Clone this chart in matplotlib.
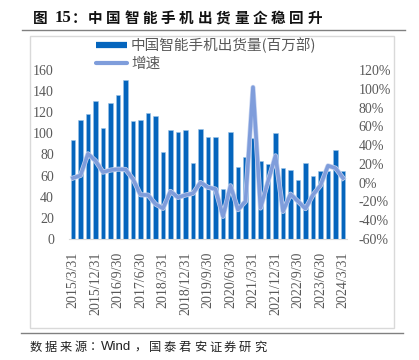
import matplotlib
matplotlib.use("Agg")
import matplotlib.pyplot as plt
from matplotlib.lines import Line2D
from matplotlib.patches import Rectangle
import matplotlib.patheffects as pe
import numpy as np

quarters = ["2015/3/31", "2015/6/30", "2015/9/30", "2015/12/31",
            "2016/3/31", "2016/6/30", "2016/9/30", "2016/12/31",
            "2017/3/31", "2017/6/30", "2017/9/30", "2017/12/31",
            "2018/3/31", "2018/6/30", "2018/9/30", "2018/12/31",
            "2019/3/31", "2019/6/30", "2019/9/30", "2019/12/31",
            "2020/3/31", "2020/6/30", "2020/9/30", "2020/12/31",
            "2021/3/31", "2021/6/30", "2021/9/30", "2021/12/31",
            "2022/3/31", "2022/6/30", "2022/9/30", "2022/12/31",
            "2023/3/31", "2023/6/30", "2023/9/30", "2023/12/31",
            "2024/3/31"]
shipments = [94, 113, 118, 131, 105, 129, 136, 151, 112, 113, 119, 116.5,
             82, 103, 101, 103, 72, 104, 97, 97, 47, 101, 68, 77.5,
             96, 74, 71, 100, 67, 65, 56, 72, 60, 64, 64, 84, 64]
growth = [4.9, 7.7, 30.7, 23.3, 11.2, 13.4, 14.4, 14.1, 3.8, -12.9, -13.2, -22.8,
          -27.4, -9.3, -15.7, -13.2, -11.4, 0.2, -5.0, -6.8, -35.9, -3.3, -28.8, -19.9,
          101.6, -27.0, 1.3, 28.6, -30.6, -12.2, -19.9, -27.7, -12.9, -2.9, 18.0, 15.5, 4.9]
bar_label = "中国智能手机出货量(百万部)"
line_label = "增速"
title_prefix = "图"
title_num = "15"
title_body = "：中国智能手机出货量企稳回升"
source_a = "数据来源："
source_b = "Wind"
source_c = "，国泰君安证券研究"

W, H = 419, 360
fig = plt.figure(figsize=(W / 100, H / 100), dpi=100)

bar_color = "#0565BD"
line_color = "#7F9DDB"
tick_color = "#595959"
serif = "Liberation Serif"
cjk = ["Noto Sans CJK SC", "DejaVu Sans"]


def fx(px):
    return px / W


def fy(py):
    return 1 - py / H


# frame box around chart
fig.add_artist(Rectangle((fx(30), fy(328)), (394 - 30) / W, (328 - 36) / H,
                         transform=fig.transFigure, fill=False,
                         edgecolor="#d9d9d9", linewidth=1))
# title line and source line
fig.add_artist(Line2D([fx(22), fx(405)], [fy(30), fy(30)],
                      transform=fig.transFigure, color="#808080", linewidth=1))
fig.add_artist(Line2D([fx(21), fx(403)], [fy(333), fy(333)],
                      transform=fig.transFigure, color="#808080", linewidth=1))

# title, drawn with the reference's wide letter spacing
ty = fy(18)
fig.text(fx(40), ty, title_prefix, family=cjk, fontweight="bold", fontsize=10.5,
         va="center", ha="center", color="#111111")
fig.text(fx(62.5), ty, title_num, family=serif, fontweight="bold", fontsize=12,
         va="center", ha="center", color="#111111")
for i, ch in enumerate(title_body):
    cx = 79 + (i - 0) * 18.3 if i == 0 else 95 + (i - 1) * 18.3
    fig.text(fx(cx), ty, ch, family=cjk, fontweight="bold", fontsize=10.5,
             va="center", ha="center", color="#111111")

# source
sy = fy(347)
for i, ch in enumerate(source_a):
    fig.text(fx(36 + i * 15), sy, ch, family=cjk, fontsize=8.8,
             va="center", ha="center", color="#222222")
fig.text(fx(101), sy, source_b, family="Liberation Sans", fontsize=9.5,
         va="center", ha="left", color="#222222")
for i, ch in enumerate(source_c):
    fig.text(fx(140 + i * 15), sy, ch, family=cjk, fontsize=8.8,
             va="center", ha="center", color="#222222")

left, right = 69.25 / W, 346.75 / W
bottom, top = 1 - 239 / H, 1 - 70 / H
ax = fig.add_axes([left, bottom, right - left, top - bottom])
x = np.arange(len(quarters))
ax.bar(x, shipments, width=0.6, color=bar_color, edgecolor="#9dc3e6",
       linewidth=0.4, zorder=2)
ax.set_xlim(-0.5, len(quarters) - 0.5)
ax.set_ylim(0, 160)
ax.set_yticks(np.arange(0, 161, 20))
ax.set_xticks(x[::3])
ax.set_xticklabels(quarters[::3], rotation=90)
for s in ["left", "right", "top"]:
    ax.spines[s].set_visible(False)
ax.spines["bottom"].set_color("#d9d9d9")
ax.tick_params(axis="both", length=0, labelsize=10, labelcolor=tick_color)
ax.tick_params(axis="y", pad=11)
ax.tick_params(axis="x", pad=9)
for lab in ax.get_xticklabels() + ax.get_yticklabels():
    lab.set_fontfamily(serif)

ax2 = ax.twinx()
ax2.plot(x, growth, color=line_color, linewidth=2.6, zorder=3,
         path_effects=[pe.Stroke(linewidth=3.6, foreground="#c5d3f0"), pe.Normal()])
ax2.set_ylim(-60, 120)
ax2.set_yticks(np.arange(-60, 121, 20))
ax2.set_yticklabels([f"{v}%" for v in range(-60, 121, 20)])
for s in ["left", "right", "top", "bottom"]:
    ax2.spines[s].set_visible(False)
ax2.tick_params(axis="y", length=0, labelsize=10, labelcolor=tick_color, pad=8.5)
for lab in ax2.get_yticklabels():
    lab.set_fontfamily(serif)

handles = [Line2D([], [], color=bar_color, linewidth=4.5, solid_capstyle="butt"),
           Line2D([], [], color=line_color, linewidth=3, solid_capstyle="round")]
leg = fig.legend(handles, [bar_label, line_label], loc="upper left",
                 bbox_to_anchor=(96 / W, 1 - 37.5 / H), frameon=False,
                 borderaxespad=0, borderpad=0, handlelength=2.1,
                 handletextpad=0.3, labelspacing=0.28,
                 prop={"family": cjk, "size": 10.5})
for t in leg.get_texts():
    t.set_color(tick_color)

fig.savefig("out.png", dpi=100)
